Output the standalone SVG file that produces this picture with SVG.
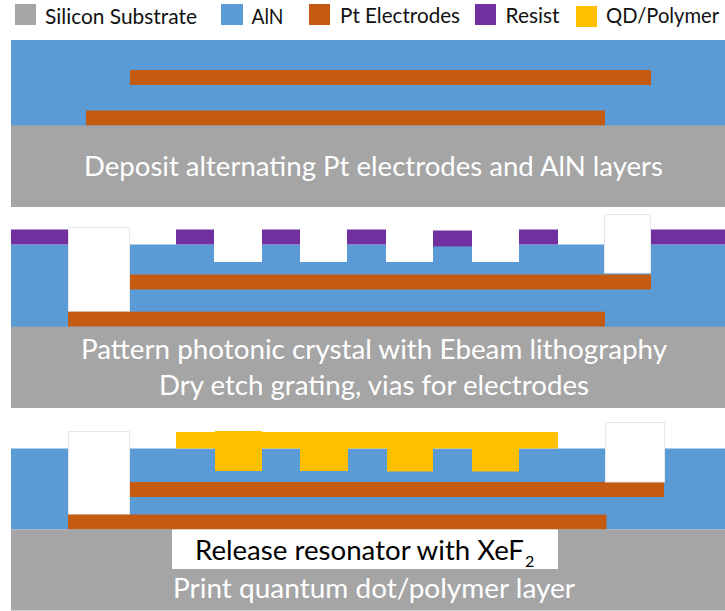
<svg xmlns="http://www.w3.org/2000/svg" width="725" height="611" viewBox="0 0 725 611">
<style>
.si{fill:#a5a5a5}.aln{fill:#5b9bd5}.pt{fill:#c55a11}.res{fill:#7030a0}.qd{fill:#ffc000}.w{fill:#fff}.wo{fill:#fff;stroke:#e8e8e8;stroke-width:1}
text{font-family:Lato,"Open Sans","Liberation Sans",sans-serif}
.lg{font-size:21px;fill:#111}.cap{font-size:26px;fill:#fff}
</style>
<rect width="725" height="611" fill="#fff"/>
<g id="legend">
<rect class="si" x="15" y="4" width="21" height="21"/><text class="lg" x="45" y="24" textLength="152" lengthAdjust="spacingAndGlyphs">Silicon Substrate</text>
<rect class="aln" x="221" y="4" width="22" height="21"/><text class="lg" x="251.500" y="24" textLength="32" lengthAdjust="spacingAndGlyphs">AlN</text>
<rect class="pt" x="309" y="4" width="21" height="21"/><text class="lg" x="340" y="22.500" textLength="120" lengthAdjust="spacingAndGlyphs">Pt Electrodes</text>
<rect class="res" x="475" y="4" width="21" height="21"/><text class="lg" x="505.500" y="22.500" textLength="54" lengthAdjust="spacingAndGlyphs">Resist</text>
<rect class="qd" x="576" y="6" width="21" height="21"/><text class="lg" x="606" y="22.500" textLength="113" lengthAdjust="spacingAndGlyphs">QD/Polymer</text>
</g>
<g id="panel1">
<rect class="aln" x="11" y="40" width="714" height="86"/>
<rect class="pt" x="130" y="70" width="521" height="15"/>
<rect class="pt" x="86" y="110.500" width="519" height="15"/>
<rect class="si" x="11" y="125.500" width="714" height="81.500"/>
<text class="cap" x="84" y="175.500" textLength="579" lengthAdjust="spacingAndGlyphs">Deposit alternating Pt electrodes and AlN layers</text>
</g>
<g id="panel2">
<rect class="aln" x="11" y="244.500" width="714" height="83"/>
<rect class="res" x="11" y="229.500" width="57" height="15"/>
<rect class="res" x="176" y="229.500" width="38" height="15"/>
<rect class="res" x="262" y="229.500" width="38" height="15"/>
<rect class="res" x="347" y="229.500" width="39" height="15"/>
<rect class="res" x="433" y="230.500" width="39" height="16"/>
<rect class="res" x="519" y="229.500" width="39" height="15"/>
<rect class="res" x="651" y="229.500" width="74" height="15"/>
<rect class="w" x="214" y="236" width="48" height="26"/>
<rect class="w" x="300" y="236" width="47" height="26"/>
<rect class="w" x="386" y="236" width="47" height="26"/>
<rect class="w" x="472" y="236" width="47" height="26"/>
<rect class="pt" x="130" y="274.500" width="521" height="15"/>
<rect class="wo" x="68.500" y="227.500" width="61" height="84"/>
<rect class="wo" x="604.500" y="214.500" width="46" height="58.500"/>
<rect class="pt" x="68" y="311.700" width="537" height="15"/>
<rect class="si" x="11" y="326.700" width="714" height="81.300"/>
<text class="cap" x="81" y="359" textLength="586" lengthAdjust="spacingAndGlyphs">Pattern photonic crystal with Ebeam lithography</text>
<text class="cap" x="159" y="395" textLength="430" lengthAdjust="spacingAndGlyphs">Dry etch grating, vias for electrodes</text>
</g>
<g id="panel3">
<rect class="aln" x="11" y="448.500" width="714" height="81"/>
<rect class="qd" x="176" y="432" width="382" height="16.500"/>
<rect class="qd" x="215" y="431" width="47" height="40"/>
<rect class="qd" x="300" y="448" width="48" height="23"/>
<rect class="qd" x="387" y="448" width="46" height="23.500"/>
<rect class="qd" x="472" y="448" width="47" height="23.500"/>
<rect class="pt" x="130" y="482" width="534" height="15"/>
<rect class="wo" x="68.500" y="431.500" width="61" height="83"/>
<rect class="wo" x="605.500" y="422.500" width="59" height="59.500"/>
<rect class="pt" x="68" y="514.500" width="538.500" height="15"/>
<rect class="si" x="11" y="529.500" width="714" height="81"/>
<rect class="w" x="172" y="529.500" width="386" height="39.500"/>
<text x="195" y="559.500" font-size="26" fill="#000" textLength="329" lengthAdjust="spacingAndGlyphs">Release resonator with XeF</text>
<text x="525" y="567" font-size="16" fill="#000">2</text>
<text class="cap" x="173" y="598" textLength="402" lengthAdjust="spacingAndGlyphs">Print quantum dot/polymer layer</text>
</g>
</svg>
